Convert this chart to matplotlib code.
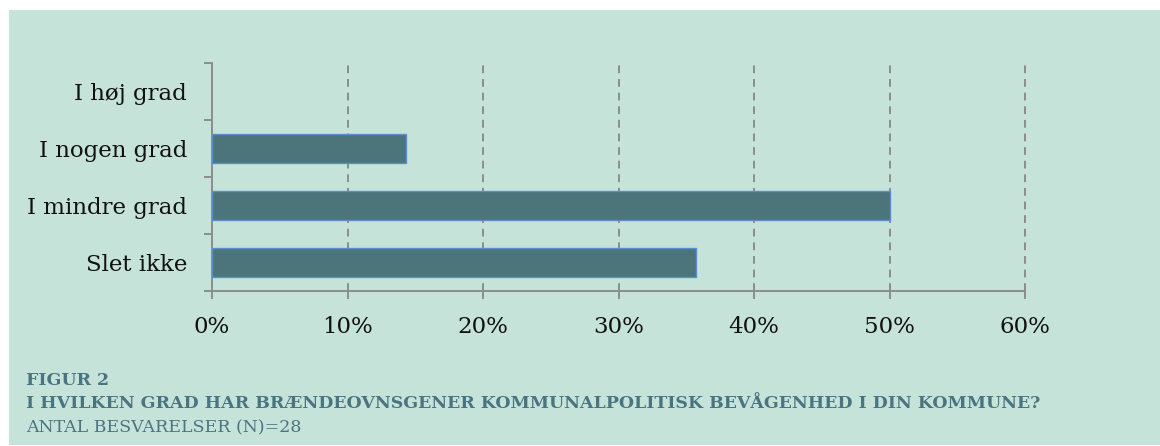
import matplotlib
matplotlib.use('Agg')
import matplotlib.pyplot as plt
from matplotlib.patches import Rectangle
from matplotlib.ticker import FixedLocator, PercentFormatter

# data (andel af 28 besvarelser)
categories = ['Slet ikke', 'I mindre grad', 'I nogen grad', 'I høj grad']
shares = [10 / 28, 14 / 28, 4 / 28, 0.0]
x_ticks = [0, 0.1, 0.2, 0.3, 0.4, 0.5, 0.6]

caption_1 = 'FIGUR 2'
caption_2 = 'I HVILKEN GRAD HAR BRÆNDEOVNSGENER KOMMUNALPOLITISK BEVÅGENHED I DIN KOMMUNE?'
caption_3 = 'ANTAL BESVARELSER (N)=28'

BG = '#c6e3d9'
BAR = '#4b757a'
EDGE = '#5b8fcc'
GRID = '#8c8c8c'
TEAL = '#4a7480'

plt.rcParams['font.family'] = ['DejaVu Serif']

fig = plt.figure(figsize=(11.6, 4.46), dpi=100)
fig.patch.set_facecolor('white')
fig.patches.append(Rectangle((9 / 1160, 1 - 445 / 446), 1, (445 - 10) / 446,
                             transform=fig.transFigure, facecolor=BG,
                             edgecolor='none', zorder=-10))

ax = fig.add_axes([212 / 1160, 1 - 291 / 446, 813 / 1160, 228 / 446])
ax.set_facecolor('none')

y = range(len(categories))
# no outline for empty bars
edge_w = [1 if v > 0 else 0 for v in shares]
ax.barh(y, shares, height=0.5, color=BAR, edgecolor=EDGE, linewidth=edge_w, zorder=3)

ax.set_xlim(0, 0.6)
ax.set_ylim(-0.5, len(categories) - 0.5)
ax.xaxis.set_major_locator(FixedLocator(x_ticks))
ax.xaxis.set_major_formatter(PercentFormatter(1.0, decimals=0))
ax.set_yticks(list(y))
ax.set_yticklabels(categories)
ax.yaxis.set_minor_locator(FixedLocator([i - 0.5 for i in range(len(categories) + 1)]))

for xt in x_ticks[1:]:
    ax.axvline(xt, color=GRID, linewidth=1.4, linestyle=(0, (4, 3)), zorder=1, clip_on=False)

for side in ['top', 'right']:
    ax.spines[side].set_visible(False)
for side in ['left', 'bottom']:
    ax.spines[side].set_color(GRID)
    ax.spines[side].set_linewidth(1.4)

ax.tick_params(axis='y', which='major', length=0, pad=18, labelsize=16.5, labelcolor='#111111')
ax.tick_params(axis='y', which='minor', length=6, width=1.4, color=GRID)
ax.tick_params(axis='x', which='major', length=6, width=1.4, color=GRID, pad=12,
               labelsize=16.5, labelcolor='#111111')

fig.text(26 / 1160, 1 - 385 / 446, caption_1, color=TEAL, fontsize=12.5,
         fontweight='bold', va='baseline')
fig.text(26 / 1160, 1 - 408 / 446, caption_2, color=TEAL, fontsize=12.5,
         fontweight='bold', va='baseline')
fig.text(26 / 1160, 1 - 432 / 446, caption_3, color=TEAL, fontsize=12.5,
         va='baseline')

fig.savefig('out.png', dpi=100, facecolor=fig.get_facecolor())
